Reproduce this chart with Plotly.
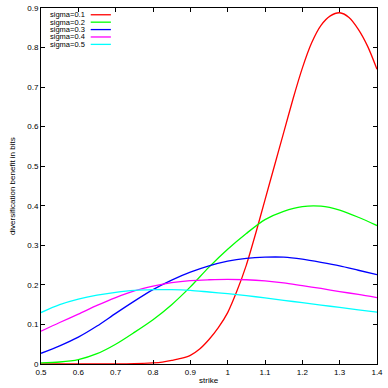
import plotly.graph_objects as go

strike = [0.5, 0.55, 0.6, 0.65, 0.7, 0.75, 0.8, 0.85, 0.9, 0.95,
          1.0, 1.05, 1.1, 1.15, 1.2, 1.25, 1.3, 1.35, 1.4]

# sigma=0.1 is steep, so it was read on a finer strike grid
strike_red = [0.5, 0.6, 0.7, 0.75, 0.8, 0.825, 0.85, 0.875, 0.9, 0.925, 0.95, 0.975,
              1.0, 1.025, 1.05, 1.075, 1.1, 1.125, 1.15, 1.175, 1.2, 1.225, 1.25,
              1.275, 1.3, 1.325, 1.35, 1.375, 1.4]
sigma_01 = [0.0, 0.0, 0.0003, 0.001, 0.003, 0.005, 0.009, 0.014, 0.022, 0.038, 0.062, 0.092,
            0.13, 0.185, 0.25, 0.33, 0.415, 0.5, 0.585, 0.67, 0.748, 0.812, 0.856,
            0.88, 0.888, 0.876, 0.846, 0.803, 0.745]
sigma_02 = [0.003, 0.005, 0.011, 0.026, 0.05, 0.08, 0.112, 0.15, 0.195, 0.245,
            0.29, 0.33, 0.365, 0.386, 0.398, 0.399, 0.389, 0.371, 0.35]
sigma_03 = [0.027, 0.046, 0.068, 0.096, 0.128, 0.159, 0.188, 0.212, 0.232, 0.248,
            0.26, 0.267, 0.27, 0.27, 0.265, 0.257, 0.248, 0.237, 0.226]
sigma_04 = [0.083, 0.105, 0.126, 0.148, 0.168, 0.185, 0.197, 0.206, 0.211, 0.213,
            0.214, 0.213, 0.21, 0.205, 0.198, 0.191, 0.183, 0.176, 0.168]
sigma_05 = [0.13, 0.15, 0.164, 0.174, 0.181, 0.186, 0.188, 0.188, 0.186, 0.182,
            0.178, 0.173, 0.167, 0.161, 0.155, 0.149, 0.143, 0.137, 0.131]

labels = ['sigma=0.1', 'sigma=0.2', 'sigma=0.3', 'sigma=0.4', 'sigma=0.5']
colors = ['#ff0000', '#00ff00', '#0000ff', '#ff00ff', '#00ffff']
xs = [strike_red, strike, strike, strike, strike]
series = [sigma_01, sigma_02, sigma_03, sigma_04, sigma_05]

fig = go.Figure()
for name, x, ys, c in zip(labels, xs, series, colors):
    fig.add_trace(go.Scatter(x=x, y=ys, mode='lines', name=name,
                             line=dict(color=c, width=1.3, shape='spline', smoothing=0.8)))

# gnuplot style key: text right aligned, sample line to the right
for i, (name, c) in enumerate(zip(labels, colors)):
    yp = 0.981 - i * 0.0208
    fig.add_annotation(x=0.137, y=yp, xref='paper', yref='paper', text=name,
                       showarrow=False, xanchor='right', yanchor='middle',
                       font=dict(size=7.5, color='black'))
    fig.add_shape(type='line', xref='paper', yref='paper', x0=0.148, x1=0.208,
                  y0=yp, y1=yp, line=dict(color=c, width=1.3))

# axis titles placed like gnuplot does
fig.add_annotation(x=0.5, y=-0.045, xref='paper', yref='paper', text='strike',
                   showarrow=False, xanchor='center', yanchor='middle', font=dict(size=8))
fig.add_annotation(x=-0.086, y=0.5, xref='paper', yref='paper',
                   text='diversification benefit in bits', textangle=-90,
                   showarrow=False, xanchor='center', yanchor='middle', font=dict(size=8))

axis = dict(showgrid=False, zeroline=False, showline=True, linecolor='black',
            linewidth=1, mirror='ticks', ticks='inside', ticklen=4, tickcolor='black',
            tickfont=dict(size=8, color='black'), automargin=False)

fig.update_layout(
    width=388, height=388,
    margin=dict(l=41, r=11, t=8, b=24),
    paper_bgcolor='white', plot_bgcolor='white',
    showlegend=False,
    font=dict(family='Liberation Sans, Arial, sans-serif', size=8, color='black'),
    xaxis=dict(axis, range=[0.5, 1.4], dtick=0.1, tick0=0.5),
    yaxis=dict(axis, range=[0, 0.9], dtick=0.1, tick0=0),
)

# page body has a default 8px margin; drop it so the figure fills the window
fig.write_html('out.html', config={'displayModeBar': False},
               post_script="document.body.style.margin='0px';")
